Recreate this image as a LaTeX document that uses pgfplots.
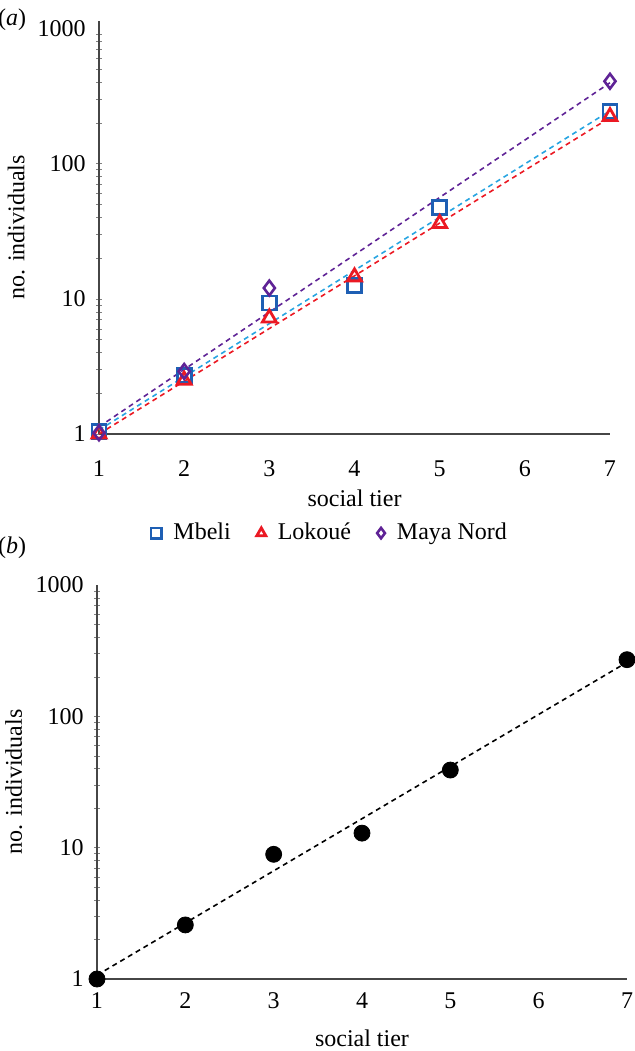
\documentclass[border=0pt]{standalone}
\usepackage{fontspec}
\setmainfont{Liberation Serif}
\usepackage{pgfplots}
\pgfplotsset{compat=1.18}
\definecolor{mbeli}{RGB}{30,95,180}
\definecolor{mbeliline}{RGB}{40,165,225}
\definecolor{lokoue}{RGB}{235,25,35}
\definecolor{maya}{RGB}{95,35,150}
\definecolor{axgray}{RGB}{70,70,70}
\begin{document}
\fontsize{12}{14}\selectfont
\begin{tikzpicture}
\path[use as bounding box] (0,0) rectangle (317pt,525.5pt);
\node[font=\fontsize{12}{14}\selectfont] at (6pt,515.5pt) {(\textit{a})};
\node[font=\fontsize{12}{14}\selectfont] at (6pt,251.5pt) {(\textit{b})};
% panel a
\begin{axis}[
  ymode=log, scale only axis, xmin=1, xmax=7, clip=false,
  axis lines=left, axis line style={-, draw=axgray, line width=0.75pt},
  xtick={1,2,3,4,5,6,7}, ytick={1,10,100,1000}, yticklabels={1,10,100,1000}, minor ytick={},
  major tick length=0pt,
  ticklabel style={font=\fontsize{12}{14}\selectfont},
  label style={font=\fontsize{12}{14}\selectfont},
  yticklabel style={xshift=-2.5pt},
  at={(49.5pt,308.5pt)}, anchor=south west,
  width=255.5pt, height=206.5pt, ymin=1, ymax=1130,
  xticklabel style={yshift=-9pt},
  xlabel={social tier}, ylabel={no. individuals},
  xlabel style={at={(axis description cs:0.5,-0.155)}, anchor=center},
  ylabel style={at={(axis description cs:-0.162,0.5)}, anchor=center},
  legend style={draw=none, fill=none, legend columns=3, at={(axis description cs:0.454,-0.24)}, anchor=center,
    font=\fontsize{12}{14}\selectfont,
    /tikz/every odd column/.append style={column sep=4pt},
    /tikz/every even column/.append style={column sep=11pt}},
  legend image post style={mark size=2.6pt},
  /pgf/number format/assume math mode=true,
]
\addplot[mbeliline, dash pattern=on 2.5pt off 2pt, line width=0.8pt, forget plot] coordinates {(1,1.07) (7,245)};
\addplot[lokoue, dash pattern=on 2.5pt off 2pt, line width=0.8pt, forget plot] coordinates {(1,1.0) (7,218)};
\addplot[maya, dash pattern=on 2.5pt off 2pt, line width=0.8pt, forget plot] coordinates {(1,1.13) (7,395)};
\addplot[only marks, mark=square, mark size=3.5pt, mbeli, line width=1.4pt] coordinates {(1,1.05) (2,2.7) (3,9.3) (4,12.6) (5,47) (7,242)};
\addlegendentry{Mbeli}
\addplot[only marks, mark=triangle, mark size=4pt, lokoue, line width=1.4pt] coordinates {(1,1.0) (2,2.5) (3,7.2) (4,14.5) (5,36) (7,222)};
\addlegendentry{Lokoué}
\addplot[only marks, mark=diamond, mark size=3.7pt, maya, line width=1.3pt] coordinates {(1,1.02) (2,2.9) (3,12) (7,405)};
\addlegendentry{Maya Nord}
\end{axis}
% panel b
\begin{axis}[
  ymode=log, scale only axis, xmin=1, xmax=7, clip=false,
  axis lines=left, axis line style={-, draw=axgray, line width=0.75pt},
  xtick={1,2,3,4,5,6,7}, ytick={1,10,100,1000}, yticklabels={1,10,100,1000}, minor ytick={},
  major tick length=0pt,
  ticklabel style={font=\fontsize{12}{14}\selectfont},
  label style={font=\fontsize{12}{14}\selectfont},
  yticklabel style={xshift=-2.5pt},
  at={(48.5pt,36pt)}, anchor=south west,
  width=265pt, height=197pt, ymin=1, ymax=1000,
  xticklabel style={yshift=-2.5pt},
  xlabel={social tier}, ylabel={no. individuals},
  xlabel style={at={(axis description cs:0.5,-0.15)}, anchor=center},
  ylabel style={at={(axis description cs:-0.157,0.5)}, anchor=center},
  /pgf/number format/assume math mode=true,
]
\addplot[black, dash pattern=on 2.5pt off 2pt, line width=0.8pt] coordinates {(1,1.07) (7,258)};
\addplot[only marks, mark=*, mark size=4pt, black] coordinates {(1,1) (2,2.58) (3,8.9) (4,12.9) (5,39) (7,270)};
\end{axis}
\end{tikzpicture}
\end{document}
